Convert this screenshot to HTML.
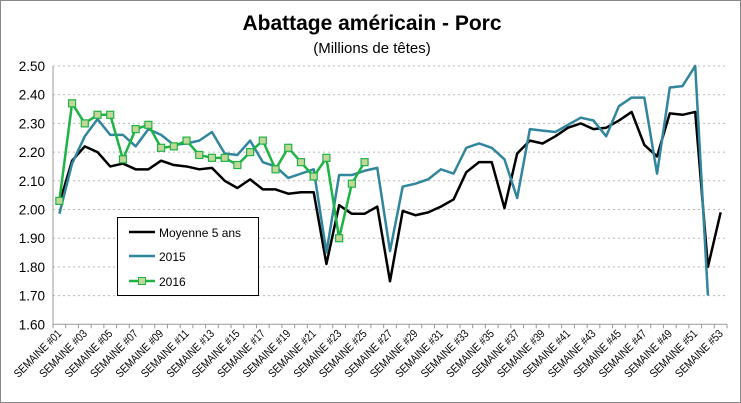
<!DOCTYPE html>
<html><head><meta charset="utf-8"><style>
body{margin:0;background:#fff}
svg{display:block;font-family:"Liberation Sans",sans-serif}
</style></head><body>
<svg id="c" width="741" height="403">
<rect x="0.5" y="0.5" width="740" height="402" fill="#fff" stroke="#888"/>
<text x="372" y="30" text-anchor="middle" font-size="21" font-weight="bold">Abattage américain - Porc</text>
<text x="372" y="53" text-anchor="middle" font-size="15">(Millions de têtes)</text>
<g id="grid"></g><g id="axes"></g><g id="series"></g>
<g>
<rect x="117.5" y="217.5" width="141" height="78" fill="#fff" stroke="#000"/>
<g><line x1="129" y1="232" x2="155" y2="232" stroke="#000" stroke-width="2.5"/><text x="159" y="237" font-size="12">Moyenne 5 ans</text></g>
<g><line x1="129" y1="256" x2="155" y2="256" stroke="#31859c" stroke-width="2.5"/><text x="159" y="261" font-size="12">2015</text></g>
<g><line x1="129" y1="281" x2="155" y2="281" stroke="#1db345" stroke-width="2.5"/><rect x="138.5" y="277.5" width="7" height="7" fill="#c4d79b" stroke="#1db345"/><text x="159" y="286" font-size="12">2016</text></g>
</g>
</svg>
<script>
const weeks = Array.from({length:53},(_,i)=>'SEMAINE #'+String(i+1).padStart(2,'0'));
const moyenne = [2.02,2.17,2.22,2.20,2.15,2.16,2.14,2.14,2.17,2.155,2.15,2.14,2.145,2.10,2.075,2.105,2.07,2.07,2.055,2.06,2.06,1.81,2.015,1.985,1.985,2.01,1.75,1.995,1.98,1.99,2.01,2.035,2.13,2.165,2.165,2.005,2.195,2.24,2.23,2.255,2.285,2.30,2.28,2.285,2.31,2.34,2.225,2.185,2.335,2.33,2.34,1.80,1.99];
const s2015 = [1.985,2.16,2.255,2.315,2.26,2.26,2.22,2.28,2.26,2.225,2.23,2.24,2.27,2.195,2.19,2.24,2.165,2.15,2.11,2.125,2.14,1.85,2.12,2.12,2.135,2.145,1.855,2.08,2.09,2.105,2.14,2.125,2.215,2.23,2.215,2.175,2.04,2.28,2.275,2.27,2.295,2.32,2.31,2.255,2.36,2.39,2.39,2.125,2.425,2.43,2.50,1.70];
const s2016 = [2.03,2.37,2.30,2.33,2.33,2.175,2.28,2.295,2.215,2.22,2.24,2.19,2.18,2.18,2.155,2.20,2.24,2.14,2.215,2.165,2.115,2.18,1.90,2.09,2.165];
const yTicks = [1.60,1.70,1.80,1.90,2.00,2.10,2.20,2.30,2.40,2.50];
const NS='http://www.w3.org/2000/svg';
const X0=53,X1=727,Y0=324.3,Y1=66;
const bw=(X1-X0)/weeks.length;
const xs=i=>X0+bw*(i+0.5);
const ys=v=>Y0-(v-1.6)/(0.9)*(Y0-Y1);
function mk(t,a,p){const e=document.createElementNS(NS,t);for(const k in a)e.setAttribute(k,a[k]);p.appendChild(e);return e;}
const grid=document.getElementById('grid'),axes=document.getElementById('axes'),ser=document.getElementById('series');
yTicks.forEach(v=>{
  if(v>1.6){const l=mk('line',{x1:X0,x2:X1,y1:ys(v),y2:ys(v),stroke:'#bbb','stroke-dasharray':'2,3'},grid);
  
  }
  const t=mk('text',{x:X0-8,y:ys(v)+5,'text-anchor':'end','font-size':'13.5'},axes);t.textContent=v.toFixed(2);
  
  
});
const ax=mk('line',{x1:X0,x2:X0,y1:Y1,y2:Y0,stroke:'#999'},axes);


const xa=mk('line',{x1:X0,x2:X1,y1:Y0,y2:Y0,stroke:'#999'},axes);


for(let i=0;i<=weeks.length;i++){mk('line',{x1:X0+bw*i,x2:X0+bw*i,y1:Y0,y2:Y0+4,stroke:'#999'},axes);}
weeks.forEach((w,i)=>{if(i%2)return;
  const t=mk('text',{x:xs(i)+3,y:Y0+10,'text-anchor':'end','font-size':'11.5',textLength:'62',lengthAdjust:'spacingAndGlyphs',transform:`rotate(-45 ${xs(i)+3} ${Y0+10})`},axes);t.textContent=w;
  
  
});
function line(data,color,name){
  const p=mk('polyline',{points:data.map((v,i)=>xs(i)+','+ys(v)).join(' '),fill:'none',stroke:color,'stroke-width':2.5,'stroke-linejoin':'round'},ser);
  
  
}
line(moyenne,'#000','line-moyenne-5-ans');
line(s2015,'#31859c','line-2015');
line(s2016,'#1db345','line-2016');
s2016.forEach((v,i)=>{const r=mk('rect',{x:xs(i)-3.5,y:ys(v)-3.5,width:7,height:7,fill:'#c4d79b',stroke:'#1db345','stroke-width':1.2},ser);
  
  
});
</script>
</body></html>
